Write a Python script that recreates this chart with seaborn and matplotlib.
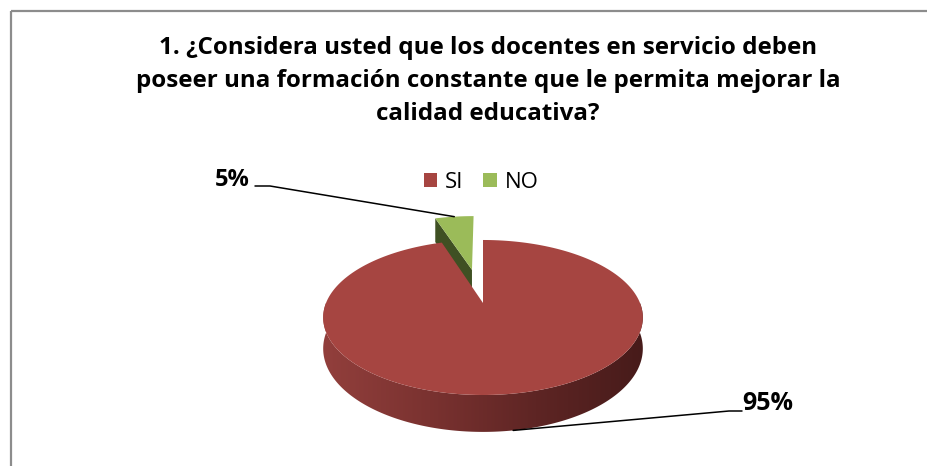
"""
3D pie chart (Excel style) - formación constante de docentes
"""

import numpy as np
import matplotlib
matplotlib.use("Agg")
import matplotlib.pyplot as plt
from matplotlib.patches import Polygon, Patch, Rectangle
from matplotlib.colors import LinearSegmentedColormap
import seaborn as sns

# --- data ---
title_lines = [
    "1. ¿Considera usted que los docentes en servicio deben",
    "poseer una formación constante que le permita mejorar la",
    "calidad educativa?",
]
categories = ["SI", "NO"]
percent = [95, 5]
labels = ["95%", "5%"]
top_colors = ["#A64541", "#9BBB59"]
face_colors = ["#4A1C1B", "#3F5023"]
explode = [0.0, 0.49]

# --- pie geometry in pixels (simple perspective) ---
CX, CY = 483, 303
A, B, K = 157, 74.8, 0.187
DEPTH = 30


def project(u, v, drop=0.0):
    w = 1 + K * v
    return CX + A * u / w, CY - B * v / w + drop / w


sns.set_theme(style="white")
plt.rcParams['font.family'] = ['Open Sans', 'DejaVu Sans']

fig = plt.figure(figsize=(9.27, 4.66), dpi=100)
ax = fig.add_axes([0, 0, 1, 1])
ax.set_xlim(0, 927)
ax.set_ylim(466, 0)
ax.axis("off")

# slice angles, clockwise from 12 o'clock
bounds = np.concatenate([[0], np.cumsum(percent)]) / np.sum(percent) * 360
slices = []
for i in range(len(percent)):
    t0, t1 = bounds[i], bounds[i + 1]
    mid = np.radians((t0 + t1) / 2)
    du, dv = explode[i] * np.sin(mid), explode[i] * np.cos(mid)
    slices.append((t0, t1, du, dv))


def rim(theta_deg, du, dv, drop=0.0):
    t = np.radians(theta_deg)
    return project(np.sin(t) + du, np.cos(t) + dv, drop)


wall_cmap = LinearSegmentedColormap.from_list(
    "wall", ["#923F3C", "#7A3230", "#5E2524", "#471B1A"])

# draw back (exploded) slice first, then the big one
for i in [1, 0]:
    t0, t1, du, dv = slices[i]
    tip = project(du, dv)
    tip_low = project(du, dv, DEPTH)
    if explode[i] > 0:
        # radial face on the counter-clockwise edge
        face = [tip, rim(t0, du, dv), rim(t0, du, dv, DEPTH), tip_low]
        ax.add_patch(Polygon(face, closed=True, fc=face_colors[i], ec="none"))
    else:
        # front outer wall, shaded left -> right
        th = np.linspace(max(t0, 90), min(t1, 270), 300)
        wall = [rim(a, du, dv) for a in th] + [rim(a, du, dv, DEPTH) for a in th[::-1]]
        wall_patch = Polygon(wall, closed=True, fc="none", ec="none")
        ax.add_patch(wall_patch)
        xs = [p[0] for p in wall]
        ys = [p[1] for p in wall]
        grad = np.linspace(1, 0, 256)[None, :]
        im = ax.imshow(grad, cmap=wall_cmap, aspect="auto",
                       extent=(max(xs), min(xs), max(ys), min(ys)), zorder=1)
        im.set_clip_path(wall_patch)
    th = np.linspace(t0, t1, 200)
    top = [tip] + [rim(a, du, dv) for a in th]
    ax.add_patch(Polygon(top, closed=True, fc=top_colors[i], ec="none", zorder=2))

# data labels with leader lines
t0, t1, du, dv = slices[1]
ax_, ay_ = rim((t0 + t1) / 2, du, dv)
ax.plot([255, 270, ax_], [186, 186, ay_], color="black", lw=1.1, zorder=3)
ax.text(232, 180, labels[1], ha="center", va="center",
        fontsize=17, fontweight="bold", color="black")

t0, t1, du, dv = slices[0]
bx_, by_ = rim((t0 + t1) / 2, du, dv, DEPTH)
ax.plot([742, 729, bx_], [411, 411, by_], color="black", lw=1.1, zorder=3)
ax.text(768, 404, labels[0], ha="center", va="center",
        fontsize=18, fontweight="bold", color="black")

# title
ax.text(488, 81, "\n".join(title_lines), ha="center", va="center",
        fontsize=17.4, fontweight="bold", color="black", linespacing=1.5)

# legend
handles = [Patch(fc=c, ec="none") for c in top_colors]
leg = ax.legend(handles, categories, loc="center",
                bbox_to_anchor=(481 / 927, 1 - 182 / 466),
                ncol=2, frameon=False, fontsize=16, handlelength=0.6,
                handleheight=0.6, handletextpad=0.35, columnspacing=0.9)
for t in leg.get_texts():
    t.set_color("black")

# chart border
ax.add_patch(Rectangle((11, 11), 1000, 1000, fill=False, ec="#8C8C8C", lw=1.6))

fig.savefig("out.png", dpi=100)
